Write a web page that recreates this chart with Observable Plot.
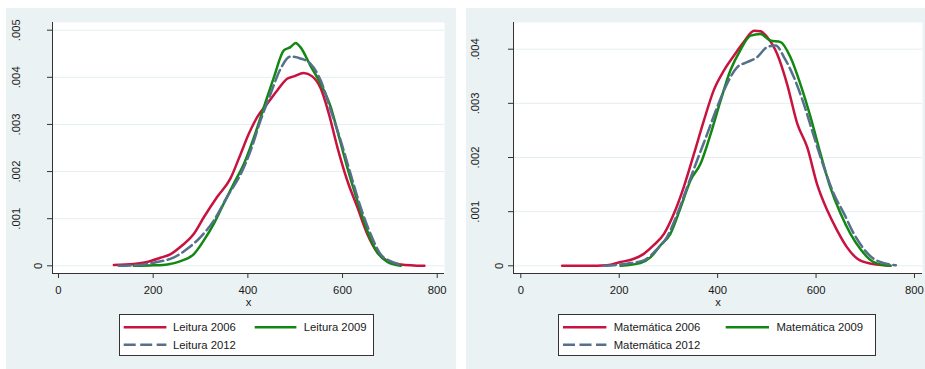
<!DOCTYPE html>
<html><head><meta charset="utf-8">
<script src="https://cdn.jsdelivr.net/npm/d3@7"></script>
<script src="https://cdn.jsdelivr.net/npm/@observablehq/plot@0.6"></script>
<style>
body{margin:0;background:#fff;font-family:"Liberation Sans",Arial,sans-serif;}
#wrap{position:relative;width:925px;height:369px;overflow:hidden;}
.panel{position:absolute;top:8px;height:361px;background:#EAF2F3;}
.panel > svg{position:absolute;left:0;top:0;overflow:visible;}
.legend{position:absolute;top:306px;background:#fff;border:1px solid #333;box-sizing:border-box;}
.legend svg{display:block;}
</style></head><body><div id="wrap"></div>
<script>
// ---- data ----
const xTicks = [0, 200, 400, 600, 800];
const yTicksLeitura = [0, 0.001, 0.002, 0.003, 0.004, 0.005];
const yTicksMat = [0, 0.001, 0.002, 0.003, 0.004];

const leitura2006 = [[117,0.00002],[159,0.00004],[187,0.00008],[215,0.00017],[237,0.00025],[261,0.00043],[286,0.00068],[307,0.00103],[335,0.00146],[363,0.00185],[385,0.00238],[402,0.0028],[420,0.00316],[441,0.00344],[462,0.00372],[483,0.00397],[497,0.00402],[518,0.00409],[536,0.00402],[554,0.00376],[571,0.00323],[589,0.00252],[610,0.00181],[631,0.00125],[652,0.00068],[673,0.00029],[694,0.00011],[723,0.00003],[773,0]];
const leitura2009 = [[159,0],[201,0.00001],[230,0.00003],[258,0.0001],[286,0.00025],[307,0.00054],[328,0.00089],[349,0.00132],[370,0.00174],[392,0.00217],[413,0.00273],[434,0.00337],[455,0.004],[476,0.00457],[490,0.00464],[501,0.00473],[511,0.00464],[532,0.00425],[554,0.00386],[575,0.00337],[589,0.00287],[610,0.00209],[631,0.00139],[652,0.00075],[673,0.00029],[694,0.00009],[723,0]];
const leitura2012 = [[127,0],[173,0.00002],[208,0.00008],[244,0.00018],[272,0.00036],[300,0.00061],[328,0.00096],[356,0.00146],[385,0.00195],[406,0.00245],[427,0.00309],[448,0.00365],[469,0.00418],[490,0.00444],[511,0.0044],[532,0.00429],[554,0.00393],[575,0.0033],[596,0.00266],[617,0.00195],[638,0.00125],[659,0.00068],[680,0.00025],[701,0.0001],[723,0.00002]];

const mat2006 = [[84,0],[135,0],[175,0.00001],[203,0.00007],[230,0.00013],[250,0.00022],[270,0.00038],[291,0.00059],[311,0.00096],[331,0.00145],[352,0.00207],[372,0.00268],[392,0.00324],[413,0.00361],[433,0.00388],[453,0.00413],[474,0.00434],[487,0.00433],[501,0.00422],[521,0.00391],[541,0.00336],[562,0.00262],[582,0.00219],[602,0.00151],[623,0.00102],[643,0.00065],[663,0.00034],[684,0.00013],[711,0.00004],[751,0]];
const mat2009 = [[203,0],[243,0.00005],[264,0.00016],[284,0.00038],[304,0.00059],[325,0.00108],[345,0.00158],[365,0.00188],[386,0.00244],[406,0.00305],[426,0.00361],[446,0.00398],[467,0.00425],[487,0.00428],[507,0.00416],[528,0.00413],[548,0.00385],[568,0.00336],[589,0.00274],[609,0.00207],[629,0.00145],[650,0.00096],[670,0.00059],[690,0.00031],[717,0.00007],[751,0]];
const mat2012 = [[169,0],[216,0.00004],[250,0.0001],[277,0.00031],[297,0.00053],[318,0.00096],[338,0.00145],[358,0.00194],[379,0.00244],[399,0.00293],[419,0.00336],[440,0.00367],[460,0.00376],[480,0.00385],[501,0.00404],[518,0.00407],[535,0.00385],[555,0.00348],[575,0.00299],[596,0.00238],[616,0.00182],[636,0.00133],[657,0.00096],[677,0.00059],[697,0.00031],[717,0.00013],[738,0.00005],[762,0.00001]];

const leituraNames = ["Leitura 2006", "Leitura 2009", "Leitura 2012"];
const matNames = ["Matemática 2006", "Matemática 2009", "Matemática 2012"];

// ---- styles ----
const styles = [
  {stroke: "#C8123F", dash: null},
  {stroke: "#128812", dash: null},
  {stroke: "#55708A", dash: "12,4.5"}
];
const axisColor = "#333";
const textColor = "#1a1a1a";
const fmtY = d => d === 0 ? "0" : d3.format(".3f")(d).replace(/^0/, "");

function makePanel(cfg) {
  const panel = document.createElement("div");
  panel.className = "panel";
  panel.style.left = cfg.left + "px";
  panel.style.width = cfg.width + "px";

  const marks = [
    Plot.frame({fill: "white", stroke: null}),
    Plot.ruleY(cfg.yTicks, {stroke: "#E4EEF0", strokeWidth: 1}),
    Plot.axisY({ticks: cfg.yTicks, tickSize: 5, tickFormat: () => "", stroke: axisColor, label: null}),
    Plot.text(cfg.yTicks.filter(d => d !== 0), {y: d => d, text: fmtY, frameAnchor: "left", textAnchor: "middle", lineAnchor: "middle", rotate: -90, dx: cfg.labDx, fill: textColor}),
    Plot.text([0], {y: d => d, text: fmtY, frameAnchor: "left", textAnchor: "middle", lineAnchor: "middle", rotate: -90, dx: cfg.zeroDx, fill: textColor}),
    Plot.axisX({ticks: xTicks, tickSize: 5, tickPadding: 7, stroke: axisColor, fill: textColor, label: null}),
    Plot.ruleX([cfg.xDomain[0]], {stroke: axisColor, strokeWidth: 1}),
    Plot.ruleY([cfg.yDomain[0]], {stroke: axisColor, strokeWidth: 1}),
    Plot.text(["x"], {text: d => d, frameAnchor: "bottom", textAnchor: "middle", lineAnchor: "middle", dy: 29, fill: textColor})
  ];
  cfg.series.forEach((s, i) => {
    marks.push(Plot.line(s, {
      x: d => d[0], y: d => d[1], curve: "monotone-x",
      stroke: styles[i].stroke, strokeWidth: 2.5,
      strokeDasharray: styles[i].dash, strokeLinejoin: "round"
    }));
  });

  const svg = Plot.plot({
    width: cfg.width, height: 300,
    marginLeft: cfg.mLeft, marginRight: cfg.mRight, marginTop: 14, marginBottom: 35,
    x: {domain: cfg.xDomain},
    y: {domain: cfg.yDomain},
    style: {background: "transparent", fontFamily: "'Liberation Sans', Arial, sans-serif", fontSize: "11.3px", color: textColor, overflow: "visible"},
    marks
  });
  panel.appendChild(svg);

  // legend
  const lg = cfg.legend;
  const leg = document.createElement("div");
  leg.className = "legend";
  leg.style.left = lg.left + "px";
  leg.style.width = lg.width + "px";
  leg.style.height = "41.5px";
  const ns = "http://www.w3.org/2000/svg";
  const ls = document.createElementNS(ns, "svg");
  ls.setAttribute("width", lg.width - 2);
  ls.setAttribute("height", 39.5);
  const items = [
    {x1: lg.c1[0], x2: lg.c1[1], tx: lg.c1[2], y: 12.2},
    {x1: lg.c2[0], x2: lg.c2[1], tx: lg.c2[2], y: 12.2},
    {x1: lg.c1[0], x2: lg.c1[1], tx: lg.c1[2], y: 29.7}
  ];
  items.forEach((it, i) => {
    const l = document.createElementNS(ns, "line");
    l.setAttribute("x1", it.x1); l.setAttribute("x2", it.x2);
    l.setAttribute("y1", it.y); l.setAttribute("y2", it.y);
    l.setAttribute("stroke", styles[i].stroke);
    l.setAttribute("stroke-width", 2.5);
    if (styles[i].dash) l.setAttribute("stroke-dasharray", styles[i].dash);
    ls.appendChild(l);
    const t = document.createElementNS(ns, "text");
    t.setAttribute("x", it.tx); t.setAttribute("y", it.y);
    t.setAttribute("dy", "0.35em");
    t.setAttribute("font-size", "11.3px");
    t.setAttribute("font-family", "'Liberation Sans', Arial, sans-serif");
    t.setAttribute("fill", textColor);
    t.textContent = cfg.names[i];
    ls.appendChild(t);
  });
  leg.appendChild(ls);
  panel.appendChild(leg);
  document.getElementById("wrap").appendChild(panel);
}

makePanel({
  left: 6, width: 450, mLeft: 46, mRight: 12,
  xDomain: [-12.7, 815.4], yDomain: [-0.000163, 0.005163],
  yTicks: yTicksLeitura, labDx: -36, zeroDx: -14,
  series: [leitura2006, leitura2009, leitura2012], names: leituraNames,
  legend: {left: 113.3, width: 255, c1: [3.7, 46.4, 53], c2: [134.7, 176.4, 183.7]}
});
makePanel({
  left: 466, width: 459, mLeft: 47, mRight: 3,
  xDomain: [-14.8, 816.3], yDomain: [-0.000142, 0.004493],
  yTicks: yTicksMat, labDx: -38, zeroDx: -14,
  series: [mat2006, mat2009, mat2012], names: matNames,
  legend: {left: 92.3, width: 317.7, c1: [4, 47.4, 54.7], c2: [166.7, 210, 217.4]}
});
</script>
</body></html>
